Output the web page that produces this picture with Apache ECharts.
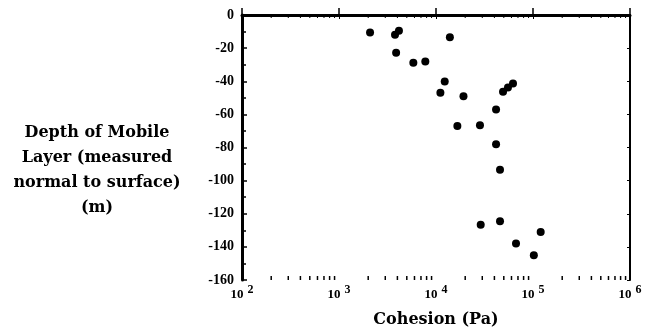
<!DOCTYPE html>
<html>
<head>
<meta charset="utf-8">
<script src="https://cdn.jsdelivr.net/npm/echarts@6/dist/echarts.min.js"></script>
<style>
  html, body { margin: 0; padding: 0; background: #fff; }
  #main { width: 646px; height: 333px; }
</style>
</head>
<body>
<div id="main"></div>
<script>
// cohesion (Pa) and depth (m)
var cohesion = [2090, 3780, 4150, 3880, 5840, 7760, 13900, 11100, 12300, 19200,
  49100, 55200, 62200, 41600, 16600, 28400, 41600, 45700, 28900, 45700,
  120000, 66800, 102000];
var depth = [-10.5, -11.9, -9.5, -22.8, -28.8, -28, -13.5, -47, -40.2, -49.1,
  -46.4, -43.8, -41.4, -57, -67, -66.5, -78, -93.5, -126.6, -124.6,
  -131, -138, -145];
var decades = [2, 3, 4, 5, 6];
var yTicks = [0, -20, -40, -60, -80, -100, -120, -140, -160];

var points = cohesion.map(function (c, i) { return [c, depth[i]]; });

// minor tick positions on the log axis: 2..9 x 10^n
var minorTicks = [];
for (var d = 0; d < decades.length - 1; d++) {
  for (var k = 2; k <= 9; k++) minorTicks.push(k * Math.pow(10, decades[d]));
}

var serif = 'Liberation Serif';
var titleFont = 'DejaVu Serif';
var chart = echarts.init(document.getElementById('main'));
var option = {
  animation: false,
  grid: { left: 242, right: 16, top: 15, bottom: 49 },
  graphic: [{
    type: 'text',
    x: 97,
    y: 120,
    style: {
      text: 'Depth of Mobile\nLayer (measured\nnormal to surface)\n(m)',
      font: 'bold 16px "DejaVu Serif"',
      lineHeight: 25,
      textAlign: 'center',
      fill: '#000'
    }
  }],
  xAxis: [{
    type: 'log',
    logBase: 10,
    min: 100,
    max: 1000000,
    position: 'bottom',
    name: 'Cohesion (Pa)',
    nameLocation: 'middle',
    nameGap: 32,
    nameTextStyle: { fontFamily: titleFont, fontWeight: 'bold', fontSize: 16, color: '#000' },
    axisLine: { lineStyle: { color: '#000', width: 3 } },
    axisTick: { inside: true, length: 7, lineStyle: { color: '#000', width: 1.5 } },
    axisLabel: {
      margin: 3,
      formatter: function (v) {
        return '{b|10}{s|' + Math.round(Math.log10(v)) + '}';
      },
      rich: {
        b: { fontFamily: serif, fontWeight: 'bold', fontSize: 13, color: '#000', padding: [5, 4, 0, 0] },
        s: { fontFamily: serif, fontWeight: 'bold', fontSize: 12, color: '#000', padding: [0, 0, 4, 0] }
      }
    },
    splitLine: { show: false }
  }, {
    type: 'log',
    logBase: 10,
    min: 100,
    max: 1000000,
    position: 'top',
    axisLine: { lineStyle: { color: '#000', width: 2 } },
    axisTick: { inside: true, length: 4, lineStyle: { color: '#000', width: 1 } },
    axisLabel: { show: false },
    splitLine: { show: false }
  }],
  yAxis: [{
    type: 'value',
    min: -160,
    max: 0,
    interval: 20,
    position: 'left',
    axisLine: { show: true, lineStyle: { color: '#000', width: 3 } },
    axisTick: { inside: true, length: 5, lineStyle: { color: '#000', width: 1.5 } },
    minorTick: { show: true, splitNumber: 2, length: 4, lineStyle: { color: '#000', width: 1.5 } },
    axisLabel: {
      margin: 8,
      fontFamily: serif,
      fontWeight: 'bold',
      fontSize: 14,
      color: '#000',
      formatter: function (v) { return yTicks.indexOf(v) >= 0 ? String(v) : ''; }
    },
    splitLine: { show: false }
  }, {
    type: 'value',
    min: -160,
    max: 0,
    interval: 20,
    position: 'right',
    axisLine: { show: true, lineStyle: { color: '#000', width: 2 } },
    axisTick: { inside: true, length: 3, lineStyle: { color: '#000', width: 1 } },
    axisLabel: { show: false },
    splitLine: { show: false }
  }],
  series: [{
    type: 'custom',
    xAxisIndex: 0,
    yAxisIndex: 0,
    silent: true,
    clip: false,
    data: minorTicks,
    encode: { x: 0 },
    renderItem: function (params, api) {
      var v = api.value(0);
      var b = api.coord([v, -160]);
      var t = api.coord([v, 0]);
      return {
        type: 'group',
        children: [{
          type: 'line',
          shape: { x1: b[0], y1: b[1], x2: b[0], y2: b[1] - 4 },
          style: { stroke: '#000', lineWidth: 1.5 }
        }, {
          type: 'line',
          shape: { x1: t[0], y1: t[1], x2: t[0], y2: t[1] + 3 },
          style: { stroke: '#000', lineWidth: 1 }
        }]
      };
    }
  }, {
    type: 'scatter',
    xAxisIndex: 0,
    yAxisIndex: 0,
    symbol: 'circle',
    symbolSize: 8,
    itemStyle: { color: '#000', opacity: 1 },
    data: points
  }]
};
chart.setOption(option);
</script>
</body>
</html>
